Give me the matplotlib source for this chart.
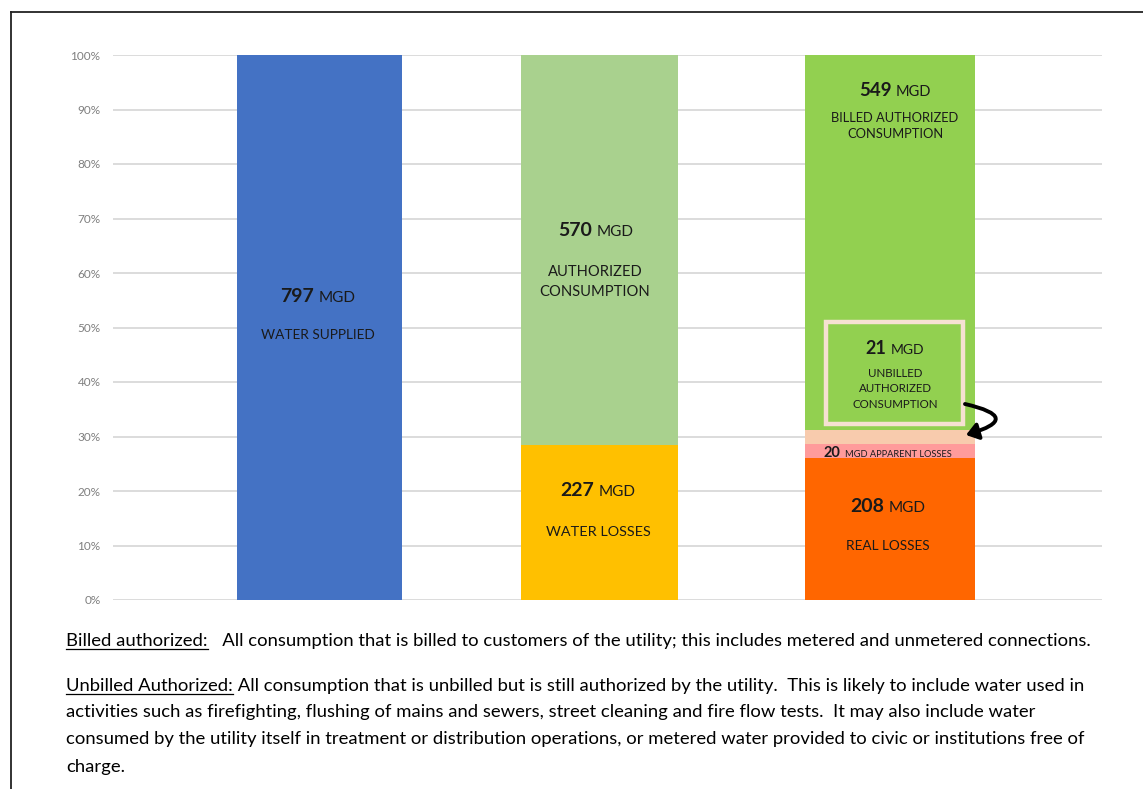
import matplotlib
matplotlib.use("Agg")
import matplotlib.pyplot as plt
from matplotlib.offsetbox import TextArea, HPacker, AnnotationBbox
from matplotlib.patches import Rectangle, FancyArrowPatch
from matplotlib.lines import Line2D

FONT = ["Lato", "DejaVu Sans"]
plt.rcParams["font.family"] = FONT

# ---------------- data (MGD) ----------------
water_supplied = 797
authorized_consumption = 570
water_losses = 227
billed_authorized = 549
unbilled_authorized = 21
apparent_losses = 20
real_losses = 208
ytick_labels = ["0%", "10%", "20%", "30%", "40%", "50%", "60%", "70%", "80%", "90%", "100%"]

def pct(v):
    return v / water_supplied * 100

# ---------------- colours ----------------
C_BLUE = "#4472C4"
C_LGREEN = "#A9D18E"
C_YELLOW = "#FFC000"
C_GREEN = "#92D050"
C_ORANGE = "#FF6600"
C_PINK = "#FF9B9B"
C_PEACH = "#F8CBAD"
TXT = "#1a1a1a"

fig = plt.figure(figsize=(11.43, 7.89), dpi=100)
ax = fig.add_axes([113 / 1143, 189 / 789, 989 / 1143, 545 / 789])
ax.set_xlim(0, 989)
ax.set_ylim(0, 100)

# bar geometry (x in axis pixel units)
x1, w1 = 206.5, 165
x2, w2 = 486.5, 157
x3, w3 = 777, 170

ax.bar(x1, pct(water_supplied), width=w1, color=C_BLUE, zorder=3)
ax.bar(x2, pct(water_losses), width=w2, color=C_YELLOW, zorder=3)
ax.bar(x2, pct(authorized_consumption), bottom=pct(water_losses), width=w2, color=C_LGREEN, zorder=3)
b = 0
for v, c in [(real_losses, C_ORANGE), (apparent_losses, C_PINK), (unbilled_authorized, C_PEACH), (billed_authorized, C_GREEN)]:
    ax.bar(x3, pct(v), bottom=b, width=w3, color=c, zorder=3)
    b += pct(v)

# axes styling
for s in ax.spines.values():
    s.set_visible(False)
ax.set_xticks([])
ax.set_yticks(range(0, 101, 10))
ax.set_yticklabels(ytick_labels, fontsize=8.5, color="#7F7F7F")
ax.tick_params(axis="y", length=0, pad=9)
ax.grid(axis="y", color="#D9D9D9", linewidth=1.3, zorder=0)
ax.set_axisbelow(True)

def ypx(py):
    return (600 - py) / 5.45

def num_label(x, py, num, unit, nsize=14, usize=11):
    t1 = TextArea(num, textprops=dict(fontsize=nsize, fontweight="bold", color=TXT, family=FONT))
    t2 = TextArea(unit, textprops=dict(fontsize=usize, color=TXT, family=FONT))
    box = HPacker(children=[t1, t2], align="baseline", pad=0, sep=3)
    ab = AnnotationBbox(box, (x, ypx(py)), frameon=False, box_alignment=(0.5, 0.5), pad=0, zorder=6)
    ax.add_artist(ab)

def txt(x, py, s, size=10, **kw):
    ax.text(x, ypx(py), s, fontsize=size, color=TXT, ha="center", va="center", zorder=6, **kw)

# bar 1
num_label(205, 296, "797", "MGD")
txt(205, 335, "WATER SUPPLIED", size=9.8)
# bar 2
num_label(483, 230, "570", "MGD")
txt(482, 282, "AUTHORIZED\nCONSUMPTION", size=10.6, linespacing=1.55)
num_label(485, 491, "227", "MGD")
txt(485, 532, "WATER LOSSES", size=10.4)
# bar 3
num_label(782, 91, "549", "MGD", 13.5, 10.5)
txt(782, 126, "BILLED AUTHORIZED\nCONSUMPTION", size=9.3, linespacing=1.5)
num_label(782, 349, "21", "MGD", 13, 10)
txt(782, 389, "UNBILLED\nAUTHORIZED\nCONSUMPTION", size=8.3, linespacing=1.5)
num_label(774.5, 453, "20", "MGD APPARENT LOSSES", 10.5, 6.7)
num_label(775, 506, "208", "MGD")
txt(775, 546, "REAL LOSSES", size=9.8)

# box around unbilled
ax.add_patch(Rectangle((713, ypx(424)), 137, ypx(322) - ypx(424), fill=False,
                       edgecolor="#F6E1D2", linewidth=3.2, zorder=5))
# curved arrow
arr = FancyArrowPatch((852, ypx(404)), (853, ypx(435)), connectionstyle="arc3,rad=-1.9",
                      arrowstyle="-|>,head_length=7,head_width=5", color="black",
                      linewidth=2.8, zorder=7, clip_on=False, shrinkA=0, shrinkB=0)
ax.add_patch(arr)

# figure border (left and top)
fig.add_artist(Line2D([11 / 1143, 11 / 1143], [0, 1 - 12 / 789], color="#222222", linewidth=1.3))
fig.add_artist(Line2D([11 / 1143, 1], [1 - 12 / 789, 1 - 12 / 789], color="#222222", linewidth=1.3))

# bottom notes
FS = 13.3
lines = [
    (646, "Billed authorized:", "   All consumption that is billed to customers of the utility; this includes metered and unmetered connections."),
    (691, "Unbilled Authorized:", " All consumption that is unbilled but is still authorized by the utility.  This is likely to include water used in"),
    (717, "", "activities such as firefighting, flushing of mains and sewers, street cleaning and fire flow tests.  It may also include water"),
    (744, "", "consumed by the utility itself in treatment or distribution operations, or metered water provided to civic or institutions free of"),
    (772, "", "charge."),
]
renderer = fig.canvas.get_renderer()
for py, head, rest in lines:
    yb = 1 - py / 789
    xs = 66 / 1143
    if head:
        t = fig.text(xs, yb, head, fontsize=FS, color="black", va="baseline", ha="left")
        bb = t.get_window_extent(renderer)
        x_end = bb.x1 / 1143
        fig.add_artist(Line2D([xs, x_end], [yb - 3 / 789, yb - 3 / 789], color="black", linewidth=0.9))
        xs = x_end
    fig.text(xs, yb, rest, fontsize=FS, color="black", va="baseline", ha="left")

fig.savefig("out.png", dpi=100)
